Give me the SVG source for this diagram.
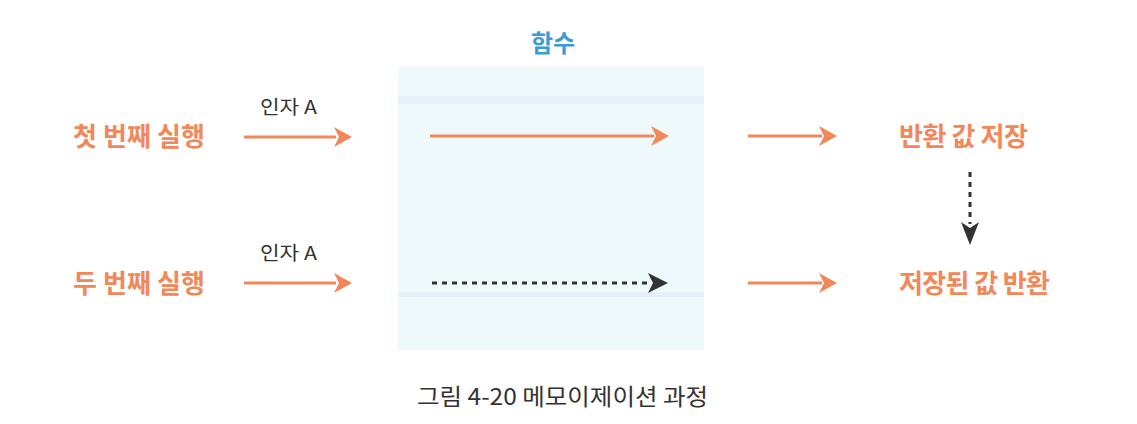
<svg xmlns="http://www.w3.org/2000/svg" width="1137" height="424" viewBox="0 0 1137 424">
<style>
.lbl{font-family:"Noto Sans CJK KR","Noto Sans",sans-serif;font-weight:bold;font-size:26px;fill:#f2875a}
.arg{font-family:"Noto Sans CJK KR","Noto Sans",sans-serif;font-size:19px;fill:#333}
.cap{font-family:"Noto Sans CJK KR","Noto Sans",sans-serif;font-size:23px;fill:#333}
.title{font-family:"Noto Sans CJK KR","Noto Sans",sans-serif;font-weight:bold;font-size:24px;fill:#3a9bd5}
.oline{stroke:#f2875a;stroke-width:3;fill:none}
.dline{stroke:#333;stroke-width:3;fill:none;stroke-dasharray:5 5}
.oh{fill:#f2875a}
.dh{fill:#333}
</style>
<rect width="1137" height="424" fill="#ffffff"/>
<g id="func-box">
<rect x="398" y="67" width="306" height="283" fill="#eef9fb"/>
<rect x="398" y="96" width="306" height="8" fill="#e6eef6" opacity="0.7"/>
<rect x="398" y="292" width="306" height="5" fill="#e4ecf3" opacity="0.7"/>
<text class="title" x="553" y="52" text-anchor="middle">함수</text>
</g>
<g id="first-run"><text class="lbl" x="73" y="146" textLength="132" lengthAdjust="spacing">첫 번째 실행</text></g>
<g id="second-run"><text class="lbl" x="73" y="293" textLength="132" lengthAdjust="spacing">두 번째 실행</text></g>
<g id="arg1"><text class="arg" x="260" y="114" textLength="57" lengthAdjust="spacingAndGlyphs">인자 A</text></g>
<g id="arg2"><text class="arg" x="260" y="260" textLength="57" lengthAdjust="spacingAndGlyphs">인자 A</text></g>
<g id="store"><text class="lbl" x="899" y="146" textLength="129" lengthAdjust="spacing">반환 값 저장</text></g>
<g id="return-stored"><text class="lbl" x="899" y="293" textLength="151" lengthAdjust="spacing">저장된 값 반환</text></g>
<g id="connectors">
<path d="M244,137 H336" class="oline"/>
<path class="oh" d="M334,127 L352,137 L334,147 L339,137 Z"/>
<path d="M430,136 H654" class="oline"/>
<path class="oh" d="M651,126 L669,136 L651,146 L656,136 Z"/>
<path d="M748,136 H822" class="oline"/>
<path class="oh" d="M819,126 L837,136 L819,146 L824,136 Z"/>
<path d="M244,283 H336" class="oline"/>
<path class="oh" d="M334,273 L352,283 L334,293 L339,283 Z"/>
<path d="M748,283 H822" class="oline"/>
<path class="oh" d="M819,273 L837,283 L819,293 L824,283 Z"/>
<path d="M432,283 H652" class="dline"/>
<path class="dh" d="M648,273 L668,283 L648,293 L653,283 Z"/>
<path d="M970,172 V224" class="dline" stroke-dasharray="4 6"/>
<path class="dh" d="M961,222 L970,245 L979,222 L970,228 Z"/>
</g>
<g id="caption"><text class="cap" x="417" y="405" textLength="291" lengthAdjust="spacingAndGlyphs">그림 4-20 메모이제이션 과정</text></g>
</svg>
